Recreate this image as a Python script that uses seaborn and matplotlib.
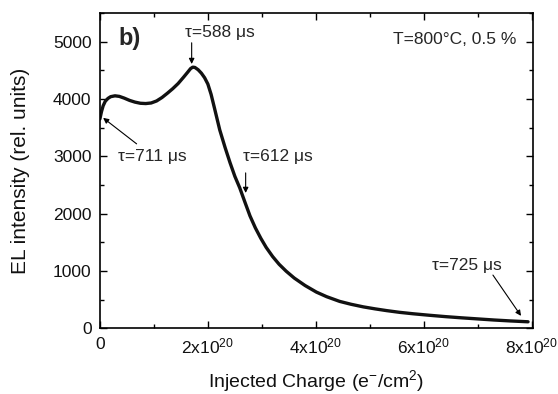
import matplotlib
matplotlib.use("Agg")
import matplotlib.pyplot as plt
import seaborn as sns
import pandas as pd
from matplotlib.ticker import MultipleLocator, FixedLocator

# Data (charge in units of 1e20 e-/cm^2)
charge = [0.00, 0.03, 0.06, 0.10, 0.15, 0.20, 0.28, 0.36, 0.45, 0.55, 0.65, 0.75,
          0.85, 0.95, 1.05, 1.15, 1.25, 1.35, 1.45, 1.55, 1.62, 1.68, 1.72, 1.76,
          1.82, 1.88, 1.94, 2.00, 2.06, 2.12, 2.22, 2.32, 2.41, 2.50, 2.59, 2.69,
          2.78, 2.88, 2.98, 3.08, 3.20, 3.32, 3.45, 3.60, 3.80, 4.01, 4.20, 4.44,
          4.65, 4.88, 5.10, 5.31, 5.55, 5.80, 6.10, 6.40, 6.70, 7.00, 7.30, 7.60,
          7.93]
intensity = [3650, 3780, 3880, 3960, 4010, 4040, 4055, 4045, 4015, 3975, 3945, 3925,
             3920, 3930, 3965, 4025, 4100, 4180, 4270, 4380, 4460, 4530, 4555, 4550,
             4510, 4450, 4370, 4260, 4080, 3850, 3460, 3150, 2890, 2650, 2450, 2190,
             1960, 1750, 1570, 1410, 1250, 1115, 995, 875, 745, 630, 550, 468,
             418, 372, 337, 307, 277, 252, 226, 202, 181, 162, 143, 127,
             112]

x_ticks = [0, 2, 4, 6, 8]
x_tick_labels = ["0", r"$\mathregular{2x10^{20}}$", r"$\mathregular{4x10^{20}}$",
                 r"$\mathregular{6x10^{20}}$", r"$\mathregular{8x10^{20}}$"]
y_ticks = [0, 1000, 2000, 3000, 4000, 5000]

df = pd.DataFrame({"charge": charge, "intensity": intensity})

sns.set_style("ticks")
plt.rcParams["font.family"] = ["Liberation Sans", "DejaVu Sans"]
plt.rcParams["mathtext.fontset"] = "custom"
plt.rcParams["mathtext.rm"] = "Liberation Sans"

fig = plt.figure(figsize=(5.58, 3.94), dpi=100)
ax = fig.add_axes([0.179, 0.167, 0.776, 0.800])

sns.lineplot(data=df, x="charge", y="intensity", ax=ax, color="#111111",
             linewidth=2.4, estimator=None, sort=False)

ax.set_xlim(0, 8.02)
ax.set_ylim(0, 5500)
ax.xaxis.set_major_locator(FixedLocator(x_ticks))
ax.set_xticklabels(x_tick_labels)
ax.xaxis.set_minor_locator(MultipleLocator(1))
ax.yaxis.set_major_locator(FixedLocator(y_ticks))
ax.yaxis.set_minor_locator(MultipleLocator(500))

ax.tick_params(which="both", direction="in", top=True, right=True,
               labelsize=12.5, color="black", labelcolor="#111111", width=1.0)
ax.tick_params(which="major", length=5, pad=6)
ax.tick_params(which="minor", length=3)
for sp in ax.spines.values():
    sp.set_visible(True)
    sp.set_color("black")
    sp.set_linewidth(1.2)

ax.set_xlabel(r"Injected Charge (e$^{-}$/cm$^{2}$)", fontsize=14,
              color="#111111")
ax.xaxis.set_label_coords(0.5, -0.128)
ax.set_ylabel("EL intensity (rel. units)", fontsize=15, color="#111111")
ax.yaxis.set_label_coords(-0.162, 0.5)

tfs = 12.5
ax.text(0.042, 0.92, "b)", transform=ax.transAxes, fontsize=17,
        fontweight="bold", va="center", ha="left")
ax.text(0.963, 0.915, "T=800°C, 0.5 %", transform=ax.transAxes, fontsize=tfs,
        va="center", ha="right")

arrow = dict(arrowstyle="-|>", color="black", lw=0.8, mutation_scale=8,
             shrinkA=0, shrinkB=0)
ax.text(1.57, 5160, "τ=588 μs", fontsize=tfs, ha="left", va="center")
ax.annotate("", xy=(1.70, 4610), xytext=(1.70, 4980), arrowprops=arrow)
ax.text(0.33, 2990, "τ=711 μs", fontsize=tfs, ha="left", va="center")
ax.annotate("", xy=(0.06, 3670), xytext=(0.68, 3217), arrowprops=arrow)
ax.text(2.65, 2990, "τ=612 μs", fontsize=tfs, ha="left", va="center")
ax.annotate("", xy=(2.70, 2360), xytext=(2.70, 2710), arrowprops=arrow)
ax.text(6.15, 1100, "τ=725 μs", fontsize=tfs, ha="left", va="center")
ax.annotate("", xy=(7.80, 215), xytext=(7.28, 927), arrowprops=arrow)

fig.savefig("out.png", dpi=100)
